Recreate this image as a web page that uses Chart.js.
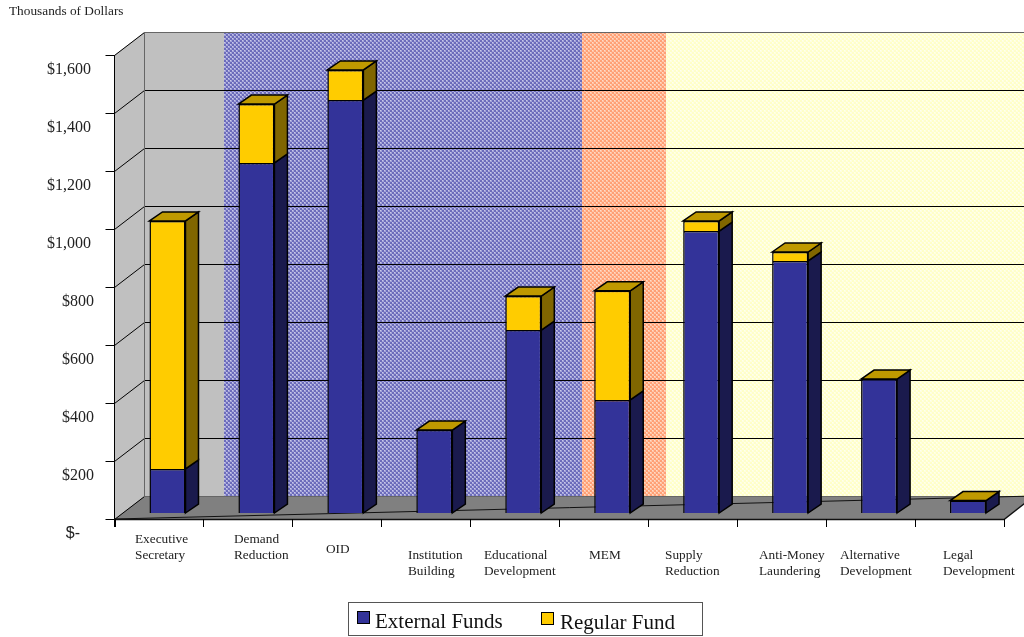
<!DOCTYPE html>
<html>
<head>
<meta charset="utf-8">
<style>
  html, body { margin: 0; padding: 0; background: #fff; }
  #wrap { position: relative; width: 1024px; height: 637px; overflow: hidden; }
</style>
</head>
<body>
<div id="wrap"><canvas id="chart" width="1024" height="637"></canvas></div>
<script src="https://cdn.jsdelivr.net/npm/chart.js@4"></script>
<script>
const categories = [
  ['Executive', 'Secretary'], ['Demand', 'Reduction'], ['OID'],
  ['Institution', 'Building'], ['Educational', 'Development'], ['MEM'],
  ['Supply', 'Reduction'], ['Anti-Money', 'Laundering'],
  ['Alternative', 'Development'], ['Legal', 'Development']
];
const externalFunds = [152, 1207, 1424, 286, 631, 390, 972, 869, 462, 43];
const regularFund = [855, 203, 104, 0, 117, 376, 35, 31, 0, 0];
const yTicks = [0, 200, 400, 600, 800, 1000, 1200, 1400, 1600];

const serif = '"Liberation Serif", "Times New Roman", serif';

// 3d look of the old chart: back wall sits behind the axes, bars half way
const wallDx = 30, wallDy = -23;
const barDx = 8.5, barDy = -6;
const sideDx = 13, sideDy = -9;

const labelLefts = [135, 234, 326, 408, 484, 589, 665, 759, 840, 943];
const labelTops = [540, 540, 550, 556, 556, 556, 556, 556, 556, 556];

function dither(dark, light, speck) {
  const c = document.createElement('canvas');
  c.width = c.height = 4;
  const g = c.getContext('2d');
  g.fillStyle = light;
  g.fillRect(0, 0, 4, 4);
  g.fillStyle = dark;
  g.fillRect(0, 0, 2, 2);
  g.fillRect(2, 2, 2, 2);
  g.fillStyle = speck;
  g.fillRect(2, 0, 1, 1);
  g.fillRect(0, 2, 1, 1);
  return g.createPattern(c, 'repeat');
}

function poly(ctx, pts, fill, stroke, lw) {
  ctx.beginPath();
  pts.forEach((p, i) => i ? ctx.lineTo(p[0], p[1]) : ctx.moveTo(p[0], p[1]));
  ctx.closePath();
  if (fill) { ctx.fillStyle = fill; ctx.fill(); }
  if (stroke) { ctx.strokeStyle = stroke; ctx.lineWidth = lw || 1; ctx.stroke(); }
}

const walls = {
  id: 'walls',
  beforeDatasetsDraw(chart) {
    const { ctx, chartArea: a, scales: { y } } = chart;
    const top = y.getPixelForValue(1600), bot = y.getPixelForValue(0);
    const backTop = top + wallDy, backBot = bot + wallDy;
    const backLeft = a.left + wallDx;
    ctx.save();

    // title
    ctx.fillStyle = '#222';
    ctx.font = '13.3px ' + serif;
    ctx.textBaseline = 'alphabetic';
    ctx.fillText('Thousands of Dollars', 9, 15);

    // back wall bands
    ctx.fillStyle = '#c0c0c0';
    ctx.fillRect(backLeft, backTop, 224 - backLeft, backBot - backTop);
    ctx.fillStyle = dither('#6c6cbb', '#a4a4d8', '#c8c8ea');
    ctx.fillRect(224, backTop, 582 - 224, backBot - backTop);
    ctx.fillStyle = dither('#ffa075', '#ffc4a6', '#ffdcc8');
    ctx.fillRect(582, backTop, 666 - 582, backBot - backTop);
    ctx.fillStyle = dither('#ffffc8', '#ffffe0', '#fffff0');
    ctx.fillRect(666, backTop, 1024 - 666, backBot - backTop);

    // left wall, floor
    poly(ctx, [[a.left, top], [backLeft, backTop], [backLeft, backBot], [a.left, bot]], '#c0c0c0');
    poly(ctx, [[a.left, bot], [backLeft, backBot], [a.right + wallDx, backBot], [a.right, bot]], '#808080');

    // grid on the walls
    yTicks.forEach(v => {
      const py = Math.round(y.getPixelForValue(v)) + 0.5;
      ctx.strokeStyle = '#000';
      ctx.lineWidth = 1;
      ctx.beginPath();
      ctx.moveTo(a.left - 9, py);
      ctx.lineTo(a.left, py);
      ctx.lineTo(backLeft, py + wallDy);
      if (v > 0) ctx.lineTo(1024, py + wallDy);
      ctx.stroke();
    });
    ctx.strokeStyle = '#666';
    ctx.beginPath();
    ctx.moveTo(backLeft, backTop);
    ctx.lineTo(backLeft, backBot + 0.5);
    ctx.lineTo(1024, backBot + 0.5);
    ctx.moveTo(backLeft, backTop + 0.5);
    ctx.lineTo(1024, backTop + 0.5);
    ctx.stroke();

    // axis lines
    ctx.strokeStyle = '#000';
    ctx.beginPath();
    ctx.moveTo(a.left, top);
    ctx.lineTo(a.left, bot + 8);
    ctx.stroke();
    ctx.strokeStyle = '#111';
    ctx.beginPath();
    ctx.moveTo(a.left, bot);
    ctx.lineTo(a.right + wallDx, backBot);
    ctx.stroke();
    ctx.lineWidth = 1.5;
    ctx.beginPath();
    ctx.moveTo(a.left, bot + 0.5);
    ctx.lineTo(a.right, bot + 0.5);
    ctx.lineTo(a.right + wallDx, backBot);
    ctx.stroke();

    // x ticks and labels
    const step = (a.right - a.left) / categories.length;
    ctx.lineWidth = 1;
    ctx.strokeStyle = '#000';
    for (let i = 0; i <= categories.length; i++) {
      const px = Math.round(a.left + step * i) + 0.5;
      ctx.beginPath();
      ctx.moveTo(px, bot);
      ctx.lineTo(px, bot + 8);
      ctx.stroke();
    }
    ctx.fillStyle = '#222';
    ctx.font = '13.3px ' + serif;
    ctx.textBaseline = 'middle';
    categories.forEach((lines, i) => {
      lines.forEach((t, j) => ctx.fillText(t, labelLefts[i], labelTops[i] + j * 15.5));
    });

    // y labels, a bit below their ticks like the original
    yTicks.forEach(v => {
      const py = y.getPixelForValue(v) + 15;
      ctx.textAlign = 'right';
      ctx.textBaseline = 'middle';
      ctx.fillStyle = '#222';
      if (v === 0) {
        ctx.font = '16px "Liberation Sans", Arial, sans-serif';
        ctx.fillText('$-', 80, py);
      } else {
        ctx.font = '16px ' + serif;
        ctx.fillText('$' + v.toLocaleString('en-US'), v >= 1000 ? 91 : 94, py);
      }
    });
    ctx.textAlign = 'left';

    // bar sides and tops
    const m0 = chart.getDatasetMeta(0), m1 = chart.getDatasetMeta(1);
    ctx.translate(barDx, barDy);
    m0.data.forEach((b0, i) => {
      const b1 = m1.data[i];
      const hw = b0.width / 2, xr = b0.x + hw, xl = b0.x - hw;
      const st = '#000';
      poly(ctx, [[xr, b0.base], [xr + sideDx, b0.base + sideDy], [xr + sideDx, b0.y + sideDy], [xr, b0.y]],
        '#1a1a4d', st, 1.5);
      if (regularFund[i] > 0) {
        poly(ctx, [[xr, b1.base], [xr + sideDx, b1.base + sideDy], [xr + sideDx, b1.y + sideDy], [xr, b1.y]],
          '#806600', st, 1.5);
      }
      const ty = regularFund[i] > 0 ? b1.y : b0.y;
      poly(ctx, [[xl, ty], [xl + sideDx, ty + sideDy], [xr + sideDx, ty + sideDy], [xr, ty]],
        '#bf9900', st, 1.5);
    });
    ctx.restore();

    // the real bars, shifted onto the same plane
    ctx.save();
    ctx.translate(barDx, barDy);
  },
  afterDatasetsDraw(chart) {
    const { ctx } = chart;
    ctx.restore();

    // legend box
    ctx.save();
    ctx.fillStyle = '#fff';
    ctx.fillRect(348, 602, 355, 34);
    ctx.strokeStyle = '#555';
    ctx.lineWidth = 1;
    ctx.strokeRect(348.5, 602.5, 354, 33);
    const xs = [357, 541], ys = [611, 612];
    chart.data.datasets.forEach((ds, i) => {
      ctx.fillStyle = ds.backgroundColor;
      ctx.strokeStyle = '#000';
      ctx.fillRect(xs[i], ys[i], 13, 13);
      ctx.strokeRect(xs[i] + 0.5, ys[i] + 0.5, 12, 12);
      ctx.fillStyle = '#111';
      ctx.font = '21px ' + serif;
      ctx.textBaseline = 'alphabetic';
      ctx.fillText(ds.label, xs[i] + 18 + i, 628 + i);
    });
    ctx.restore();
  }
};

new Chart(document.getElementById('chart'), {
  type: 'bar',
  data: {
    labels: categories,
    datasets: [
      { label: 'External Funds', data: externalFunds, backgroundColor: '#333399', borderColor: '#000', borderWidth: 1.5 },
      { label: 'Regular Fund', data: regularFund, backgroundColor: '#ffcc00', borderColor: '#000', borderWidth: 1.5 }
    ]
  },
  options: {
    responsive: false,
    animation: false,
    events: [],
    layout: { padding: { left: 114.5, right: 20, top: 55, bottom: 118 } },
    plugins: { legend: { display: false }, tooltip: { enabled: false } },
    datasets: { bar: { barPercentage: 0.405, categoryPercentage: 1 } },
    scales: {
      x: { stacked: true, display: false },
      y: { stacked: true, display: false, min: 0, max: 1600 }
    }
  },
  plugins: [walls]
});
</script>
</body>
</html>
